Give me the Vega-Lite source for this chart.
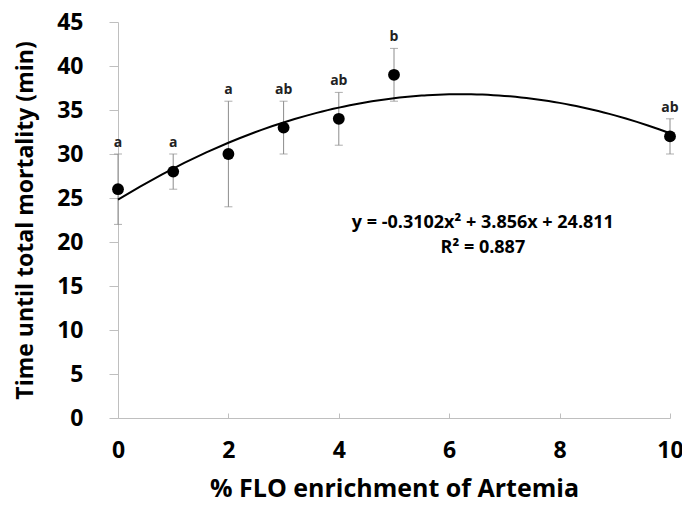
{
  "$schema": "https://vega.github.io/schema/vega-lite/v6.json",
  "width": 552,
  "height": 396,
  "autosize": "none",
  "padding": {"left": 118, "top": 22, "right": 12, "bottom": 95},
  "background": "white",
  "config": {
    "view": {"stroke": null},
    "font": "Open Sans",
    "axis": {
      "grid": false,
      "domainColor": "#bfbfbf",
      "tickColor": "#bfbfbf",
      "labelFont": "Open Sans",
      "labelFontWeight": "bold",
      "labelFontSize": 23,
      "labelColor": "#000000",
      "labelFlush": false,
      "titleFont": "Open Sans",
      "titleFontWeight": "bold",
      "titleColor": "#000000"
    },
    "axisY": {"tickSize": 9, "labelPadding": 26, "titlePadding": 19, "titleFontSize": 23},
    "axisX": {"tickSize": -5, "labelPadding": 26, "titlePadding": 14, "titleFontSize": 25}
  },
  "data": {
    "values": [
      {"flo": 0, "mortality": 26, "lower": 22, "upper": 30, "group": "a"},
      {"flo": 1, "mortality": 28, "lower": 26, "upper": 30, "group": "a"},
      {"flo": 2, "mortality": 30, "lower": 24, "upper": 36, "group": "a"},
      {"flo": 3, "mortality": 33, "lower": 30, "upper": 36, "group": "ab"},
      {"flo": 4, "mortality": 34, "lower": 31, "upper": 37, "group": "ab"},
      {"flo": 5, "mortality": 39, "lower": 36, "upper": 42, "group": "b"},
      {"flo": 10, "mortality": 32, "lower": 30, "upper": 34, "group": "ab"}
    ]
  },
  "layer": [
    {
      "mark": {"type": "errorbar", "color": "#8c8c8c", "thickness": 1, "ticks": {"size": 8, "color": "#8c8c8c"}},
      "encoding": {
        "x": {"field": "flo", "type": "quantitative", "scale": {"domain": [0, 10], "nice": false}, "axis": {"values": [0, 2, 4, 6, 8, 10]}, "title": "% FLO enrichment of Artemia"},
        "y": {"field": "lower", "type": "quantitative", "scale": {"domain": [0, 45], "nice": false}, "axis": {"values": [0, 5, 10, 15, 20, 25, 30, 35, 40, 45]}, "title": "Time until total mortality (min)"},
        "y2": {"field": "upper"}
      }
    },
    {
      "transform": [{"regression": "mortality", "on": "flo", "method": "poly", "order": 2, "extent": [0, 10]}],
      "mark": {"type": "line", "color": "#000000", "strokeWidth": 2},
      "encoding": {
        "x": {"field": "flo", "type": "quantitative", "title": "% FLO enrichment of Artemia"},
        "y": {"field": "mortality", "type": "quantitative", "title": "Time until total mortality (min)"}
      }
    },
    {
      "mark": {"type": "circle", "color": "#000000", "opacity": 1, "size": 140},
      "encoding": {
        "x": {"field": "flo", "type": "quantitative", "title": "% FLO enrichment of Artemia"},
        "y": {"field": "mortality", "type": "quantitative", "title": "Time until total mortality (min)"}
      }
    },
    {
      "mark": {"type": "text", "font": "Open Sans", "fontWeight": "bold", "fontSize": 14, "color": "#222222", "baseline": "alphabetic", "dy": -7},
      "encoding": {
        "x": {"field": "flo", "type": "quantitative", "title": "% FLO enrichment of Artemia"},
        "y": {"field": "upper", "type": "quantitative", "title": "Time until total mortality (min)"},
        "text": {"field": "group"}
      }
    },
    {
      "data": {"values": [{"label": "y = -0.3102x² + 3.856x + 24.811"}]},
      "mark": {"type": "text", "font": "Open Sans", "fontWeight": "bold", "fontSize": 18, "color": "#000000", "align": "center", "baseline": "middle"},
      "encoding": {
        "x": {"datum": 6.61},
        "y": {"datum": 22.2},
        "text": {"field": "label"}
      }
    },
    {
      "data": {"values": [{"label": "R² = 0.887"}]},
      "mark": {"type": "text", "font": "Open Sans", "fontWeight": "bold", "fontSize": 18, "color": "#000000", "align": "center", "baseline": "middle"},
      "encoding": {
        "x": {"datum": 6.61},
        "y": {"datum": 19.3},
        "text": {"field": "label"}
      }
    }
  ]
}
